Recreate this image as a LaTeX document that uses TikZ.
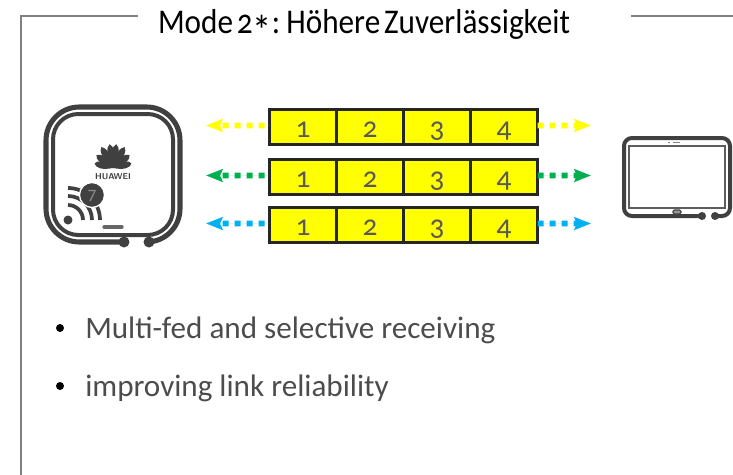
\documentclass[tikz,border=0pt]{standalone}
\usepackage{fontspec}
\setmainfont{Carlito}[Numbers=OldStyle]
\newfontfamily\titlefont{Carlito}[Numbers=OldStyle, FakeStretch=0.9, WordSpace=0.55]
\usetikzlibrary{arrows.meta}
\usetikzlibrary{positioning}
\definecolor{devicegray}{RGB}{64,64,64}
\definecolor{framegray}{RGB}{128,128,128}
\definecolor{linkgreen}{RGB}{0,176,80}
\definecolor{linkblue}{RGB}{0,176,240}
\definecolor{cellyellow}{RGB}{255,255,0}
\begin{document}
\begin{tikzpicture}[
        x=0.75pt, y=-0.75pt,
        cell/.style={rectangle, draw=black!85, fill=cellyellow, line width=2.2pt, minimum width=50.25pt, minimum height=26.25pt, inner sep=0, outer sep=0},
        digit/.style={font=\fontsize{22}{22}\selectfont, text=black!65, inner sep=0, anchor=base},
        link/.style={line width=4.4pt, dash pattern=on 4.5pt off 4.5pt, -{Stealth[length=12.5pt, width=9.5pt, inset=2pt]}},
        frameline/.style={draw=framegray, line width=1.1pt},
        device/.style={draw=devicegray, line width=3.8pt, line cap=round},
        petal/.style={fill=devicegray, draw=none},
        textline/.style={font=\fontsize{23.35}{23.35}\selectfont, text=black!70, anchor=west, inner sep=0}
    ]
        \useasboundingbox (0,0) rectangle (733,475);

        % Frame and title
        \coordinate (frame-a) at (138,16);
        \coordinate (frame-b) at (21,16);
        \coordinate (frame-c) at (21,475);
        \coordinate (frame-d) at (631,16);
        \coordinate (frame-e) at (733,16);
        \draw[frameline] (frame-a) -- (frame-b) -- (frame-c);
        \draw[frameline] (frame-d) -- (frame-e);
        \node[font=\titlefont\fontsize{26}{26}\selectfont, inner sep=0, anchor=base] (title) at (364,33) {Mode 2\raisebox{-0.75ex}{\fontsize{32}{32}\selectfont *}: Höhere Zuverlässigkeit};

        % Rows of packets
        \foreach \r/\y/\col in {1/127/cellyellow, 2/177/linkgreen, 3/225/linkblue} {
            \foreach \c in {1,...,4} {
                \pgfmathsetmacro{\x}{269.5 + (\c - 1) * 67 + 33.5}
                \node[cell] (cell-\r-\c) at (\x, \y) {};
                \node[digit] (digit-\r-\c) at (\x, \y + 10) {\c};
            }
            \coordinate (left-\r) at (206, \y - 1.5);
            \coordinate (right-\r) at (591, \y - 1.5);
            \draw[link, dash phase=5.25pt, draw=\col, fill=\col] ([yshift=1.1pt]cell-\r-1.west) -- (left-\r);
            \draw[link, draw=\col, fill=\col] ([yshift=1.1pt]cell-\r-4.east) -- (right-\r);
        }

        % Router
        \draw[device, rounded corners=25] (124,242) -- (46,242) -- (46,107) -- (180,107) -- (180,242) -- (149,242);
        \fill[devicegray] (124,242) circle (5.5);
        \fill[devicegray] (149,242) circle (5.5);
        \draw[device, line width=3pt, rounded corners=19] (53,114) rectangle (173,235);
        % Logo
        \foreach \a/\l in {-76/19, -52/21, -29/24, -8/24, 8/24, 29/24, 52/21, 76/19} {
            \fill[petal, shift={(113,168)}, rotate=\a] (0,0) .. controls (-5,-\l*0.55) and (-4,-\l*0.9) .. (0,-\l) .. controls (4,-\l*0.9) and (5,-\l*0.55) .. (0,0);
        }
        \node[font=\sffamily\bfseries\fontsize{6.4}{6.4}\selectfont, text=devicegray, inner sep=0] (brand) at (113,177) {HUAWEI};
        % Signal icon
        \fill[devicegray] (68,220) circle (4.5);
        \foreach \rad in {15,24,32} {
            \draw[draw=devicegray, line width=2.8pt] (68,220-\rad) arc[start angle=-90, end angle=0, radius=\rad];
        }
        \fill[devicegray, draw=white, line width=1pt] (92,195) circle (12.5);
        \node[font=\fontsize{13}{13}\selectfont\addfontfeatures{Numbers=Lining}, text=black!45, inner sep=0] (seven) at (92,196) {7};
        \draw[draw=devicegray!80, line width=2.4pt, line cap=round] (104,227) -- (122,227);

        % Tablet
        \draw[device, line width=3pt, rounded corners=6] (702,216) -- (624,216) -- (624,138) -- (730,138) -- (730,216) -- (715,216);
        \fill[devicegray] (702,216) circle (4);
        \fill[devicegray] (715,216) circle (4);
        \draw[draw=devicegray!85, line width=1.5pt] (629,146) rectangle (725,208);
        \draw[draw=devicegray, fill=black!40, line width=0.8pt, rounded corners=1] (673,210) rectangle (681,214);
        \fill[black!50] (668,142) rectangle (670,143);
        \fill[black!50] (673,142) rectangle (680,143);

        % Bullets
        \node[circle, fill=black, minimum size=6pt, inner sep=0] (bullet-1) at (60,328) {};
        \node[circle, fill=black, minimum size=6pt, inner sep=0] (bullet-2) at (60,386) {};
        \node[textline] (text-1) at (85,330) {Multi-fed and selective receiving};
        \node[textline] (text-2) at (85,388) {improving link reliability};

    \end{tikzpicture}
\end{document}
